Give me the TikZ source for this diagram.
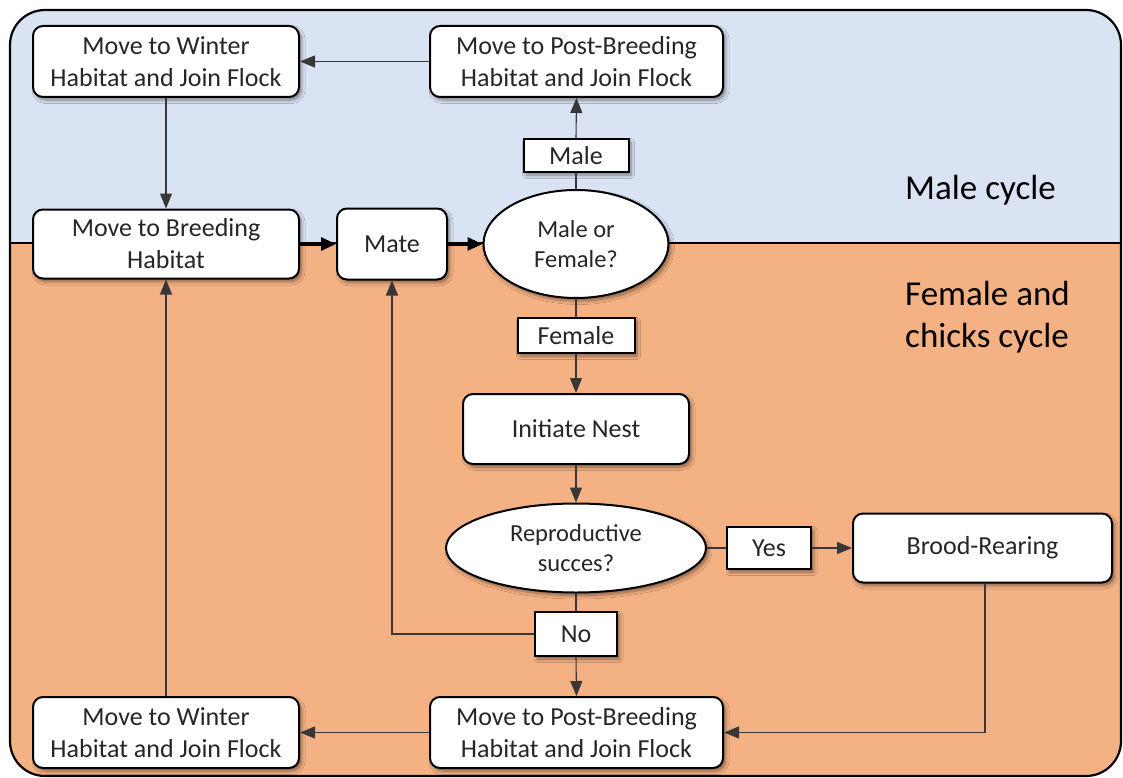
\documentclass[tikz,border=0pt]{standalone}
\usepackage{fontspec}
\setmainfont{Carlito}
\usetikzlibrary{arrows.meta,shapes.geometric,shadows.blur}
\definecolor{malebg}{RGB}{218,227,243}
\definecolor{femalebg}{RGB}{244,177,131}
\definecolor{ink}{RGB}{38,38,38}
\definecolor{wire}{RGB}{55,55,55}

\tikzset{
  dropshade/.style={blur shadow={shadow xshift=2.5pt,shadow yshift=-3pt,
      shadow blur radius=3.5pt,shadow blur steps=6,shadow opacity=45}},
  stepbox/.style={draw=black,line width=2pt,fill=white,rounded corners=10pt,
      align=center,font=\fontsize{26}{32}\selectfont,text=ink,inner sep=0pt,dropshade},
  decision/.style={ellipse,draw=black,line width=2pt,fill=white,align=center,
      font=\fontsize{24.5}{30}\selectfont,text=ink,inner sep=0pt,dropshade},
  tag/.style={draw=black,line width=2pt,fill=white,
      font=\fontsize{26}{32}\selectfont,text=ink,inner sep=0pt,dropshade},
  region/.style={font=\fontsize{35}{42}\selectfont,text=black,anchor=base west,inner sep=0pt},
  link/.style={draw=wire,line width=1.1pt,-{Triangle[length=15pt,width=12pt]}},
  wireline/.style={draw=wire,line width=1.1pt},
  heavy/.style={draw=black,line width=3pt,-{Triangle[length=15pt,width=13pt]}},
}

\begin{document}
\begin{tikzpicture}[x=1pt,y=-1pt]
\useasboundingbox (0,0) rectangle (1123,778);

% two background bands inside the rounded frame
\begin{scope}
  \clip[rounded corners=35pt] (10,10) rectangle (1121,776);
  \fill[femalebg] (0,0) rectangle (1123,778);
  \fill[malebg] (0,0) rectangle (1123,243);
\end{scope}
\draw[line width=2.2pt,rounded corners=35pt] (10,10) rectangle (1121,776);
\draw[line width=2pt] (10,243) coordinate (divl) -- (1121,243) coordinate (divr);

% region titles
\node[region] (malecyc) at (905,200) {Male cycle};
\node[region] (femcyc1) at (905,305) {Female and};
\node[region] (femcyc2) at (905,347) {chicks cycle};

% male cycle
\node[stepbox,minimum width=266pt,minimum height=71pt] (w1) at (166,61.5)
  {Move to Winter\\Habitat and Join Flock};
\node[stepbox,minimum width=293pt,minimum height=71pt] (pb1) at (576.5,61.5)
  {Move to Post-Breeding\\Habitat and Join Flock};
\node[tag,minimum width=105pt,minimum height=33pt] (male) at (576,155.5) {Male};

% breeding row
\node[stepbox,minimum width=266pt,minimum height=69pt] (breed) at (166,244)
  {Move to Breeding\\Habitat};
\node[stepbox,minimum width=110pt,minimum height=71pt] (mate) at (392,244) {Mate};
\node[decision,minimum width=185pt,minimum height=108pt] (mf) at (576,244)
  {Male or\\Female?};

% female and chicks cycle
\node[tag,minimum width=117pt,minimum height=35pt] (female) at (576,335.5) {Female};
\node[stepbox,minimum width=226pt,minimum height=70pt] (nest) at (576,429) {Initiate Nest};
\node[decision,minimum width=260pt,minimum height=89pt] (rs) at (576,548)
  {Reproductive\\succes?};
\node[tag,minimum width=84pt,minimum height=42pt] (yes) at (769,548) {Yes};
\node[stepbox,minimum width=259pt,minimum height=69pt] (brood) at (982.5,548) {Brood-Rearing};
\node[tag,minimum width=82pt,minimum height=44pt] (no) at (576,634) {No};
\node[stepbox,minimum width=293pt,minimum height=71pt] (pb2) at (576.5,732.5)
  {Move to Post-Breeding\\Habitat and Join Flock};
\node[stepbox,minimum width=266pt,minimum height=71pt] (w2) at (166,732.5)
  {Move to Winter\\Habitat and Join Flock};

% connectors
\draw[link] (pb1.west) -- (w1.east);
\draw[link] (w1.south) -- (breed.north);
\draw[heavy] (breed.east) -- (mate.west);
\draw[heavy] (mate.east) -- (mf.west);
\draw[wireline] (mf.north) -- (male.south);
\draw[link] (male.north) -- (pb1.south);
\draw[wireline] (mf.south) -- (female.north);
\draw[link] (female.south) -- (nest.north);
\draw[link] (nest.south) -- (rs.north);
\draw[wireline] (rs.east) -- (yes.west);
\draw[link] (yes.east) -- (brood.west);
\draw[wireline] (rs.south) -- (no.north);
\draw[link] (no.south) -- (pb2.north);
\draw[link] (no.west) -| (mate.south);
\draw[link] ([xshift=2.5pt]brood.south) |- (pb2.east);
\draw[link] (pb2.west) -- (w2.east);
\draw[link] (w2.north) -- (breed.south);
\end{tikzpicture}
\end{document}
